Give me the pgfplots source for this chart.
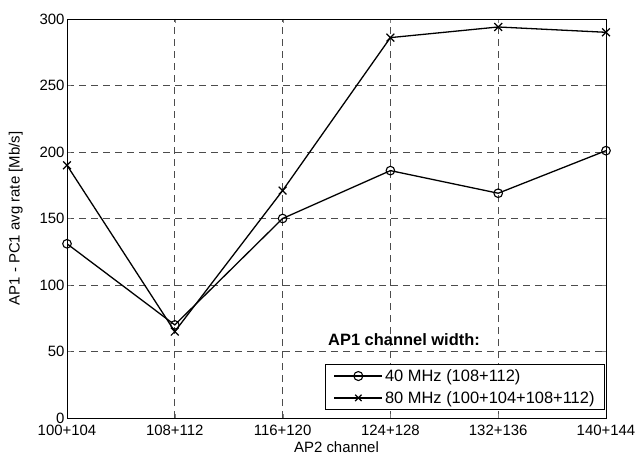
\documentclass[border=0pt]{standalone}
\usepackage{fontspec}
\setmainfont{Liberation Sans}
\usepackage{pgfplots}
\pgfplotsset{compat=1.18}
\newcommand{\chartfont}{\fontsize{15}{17}\selectfont}
\begin{document}
\begin{tikzpicture}[x=1bp,y=1bp]
\begin{axis}[
    scale only axis,
    width=539bp, height=399bp,
    xmin=0, xmax=5,
    ymin=0, ymax=300,
    xtick={0,1,2,3,4,5},
    xticklabels={100+104,108+112,116+120,124+128,132+136,140+144},
    ytick={0,50,100,150,200,250,300},
    tick align=inside,
    major tick length=4bp,
    grid=major,
    major grid style={black!70, line width=0.7bp, dash pattern=on 7bp off 5bp},
    axis line style={line width=0.8bp},
    /pgf/number format/assume math mode=true,
    ticklabel style={font=\chartfont},
    xticklabel style={yshift=-4bp},
    yticklabel style={xshift=1bp},
    label style={font=\chartfont},
    xlabel={AP2 channel},
    ylabel={AP1 - PC1 avg rate [Mb/s]},
    xlabel style={yshift=1bp},
    ylabel style={yshift=10bp},
    legend style={at={(0.998,0.02)}, anchor=south east,
        font=\fontsize{16.5}{18}\selectfont, draw=black, line width=0.8bp,
        inner xsep=8bp, inner ysep=3bp, row sep=4.5bp},
    legend cell align=left,
    legend image code/.code={%
        \draw[#1, line width=1.5bp] (0bp,0bp) -- (48bp,0bp);
        \draw[#1, only marks, mark size=4.5bp] plot coordinates {(24bp,0bp)};},
]
\addplot[black, line width=1.3bp, mark=o, mark size=4.3bp, mark options={line width=1.1bp}]
    coordinates {(0,131) (1,70) (2,150) (3,186) (4,169) (5,201)};
\addlegendentry{40 MHz (108+112)}
\addplot[black, line width=1.3bp, mark=x, mark size=5.5bp, mark options={line width=1.2bp}]
    coordinates {(0,190) (1,65) (2,171) (3,286) (4,294) (5,290)};
\addlegendentry{80 MHz (100+104+108+112)}
\end{axis}
\node[anchor=west, inner sep=0pt, font=\bfseries\fontsize{16.5}{18}\selectfont] at (261bp,78bp) {AP1 channel width:};
\pgfresetboundingbox
\path[use as bounding box] (-67bp,-38bp) rectangle (571bp,418bp);
\end{tikzpicture}
\end{document}
